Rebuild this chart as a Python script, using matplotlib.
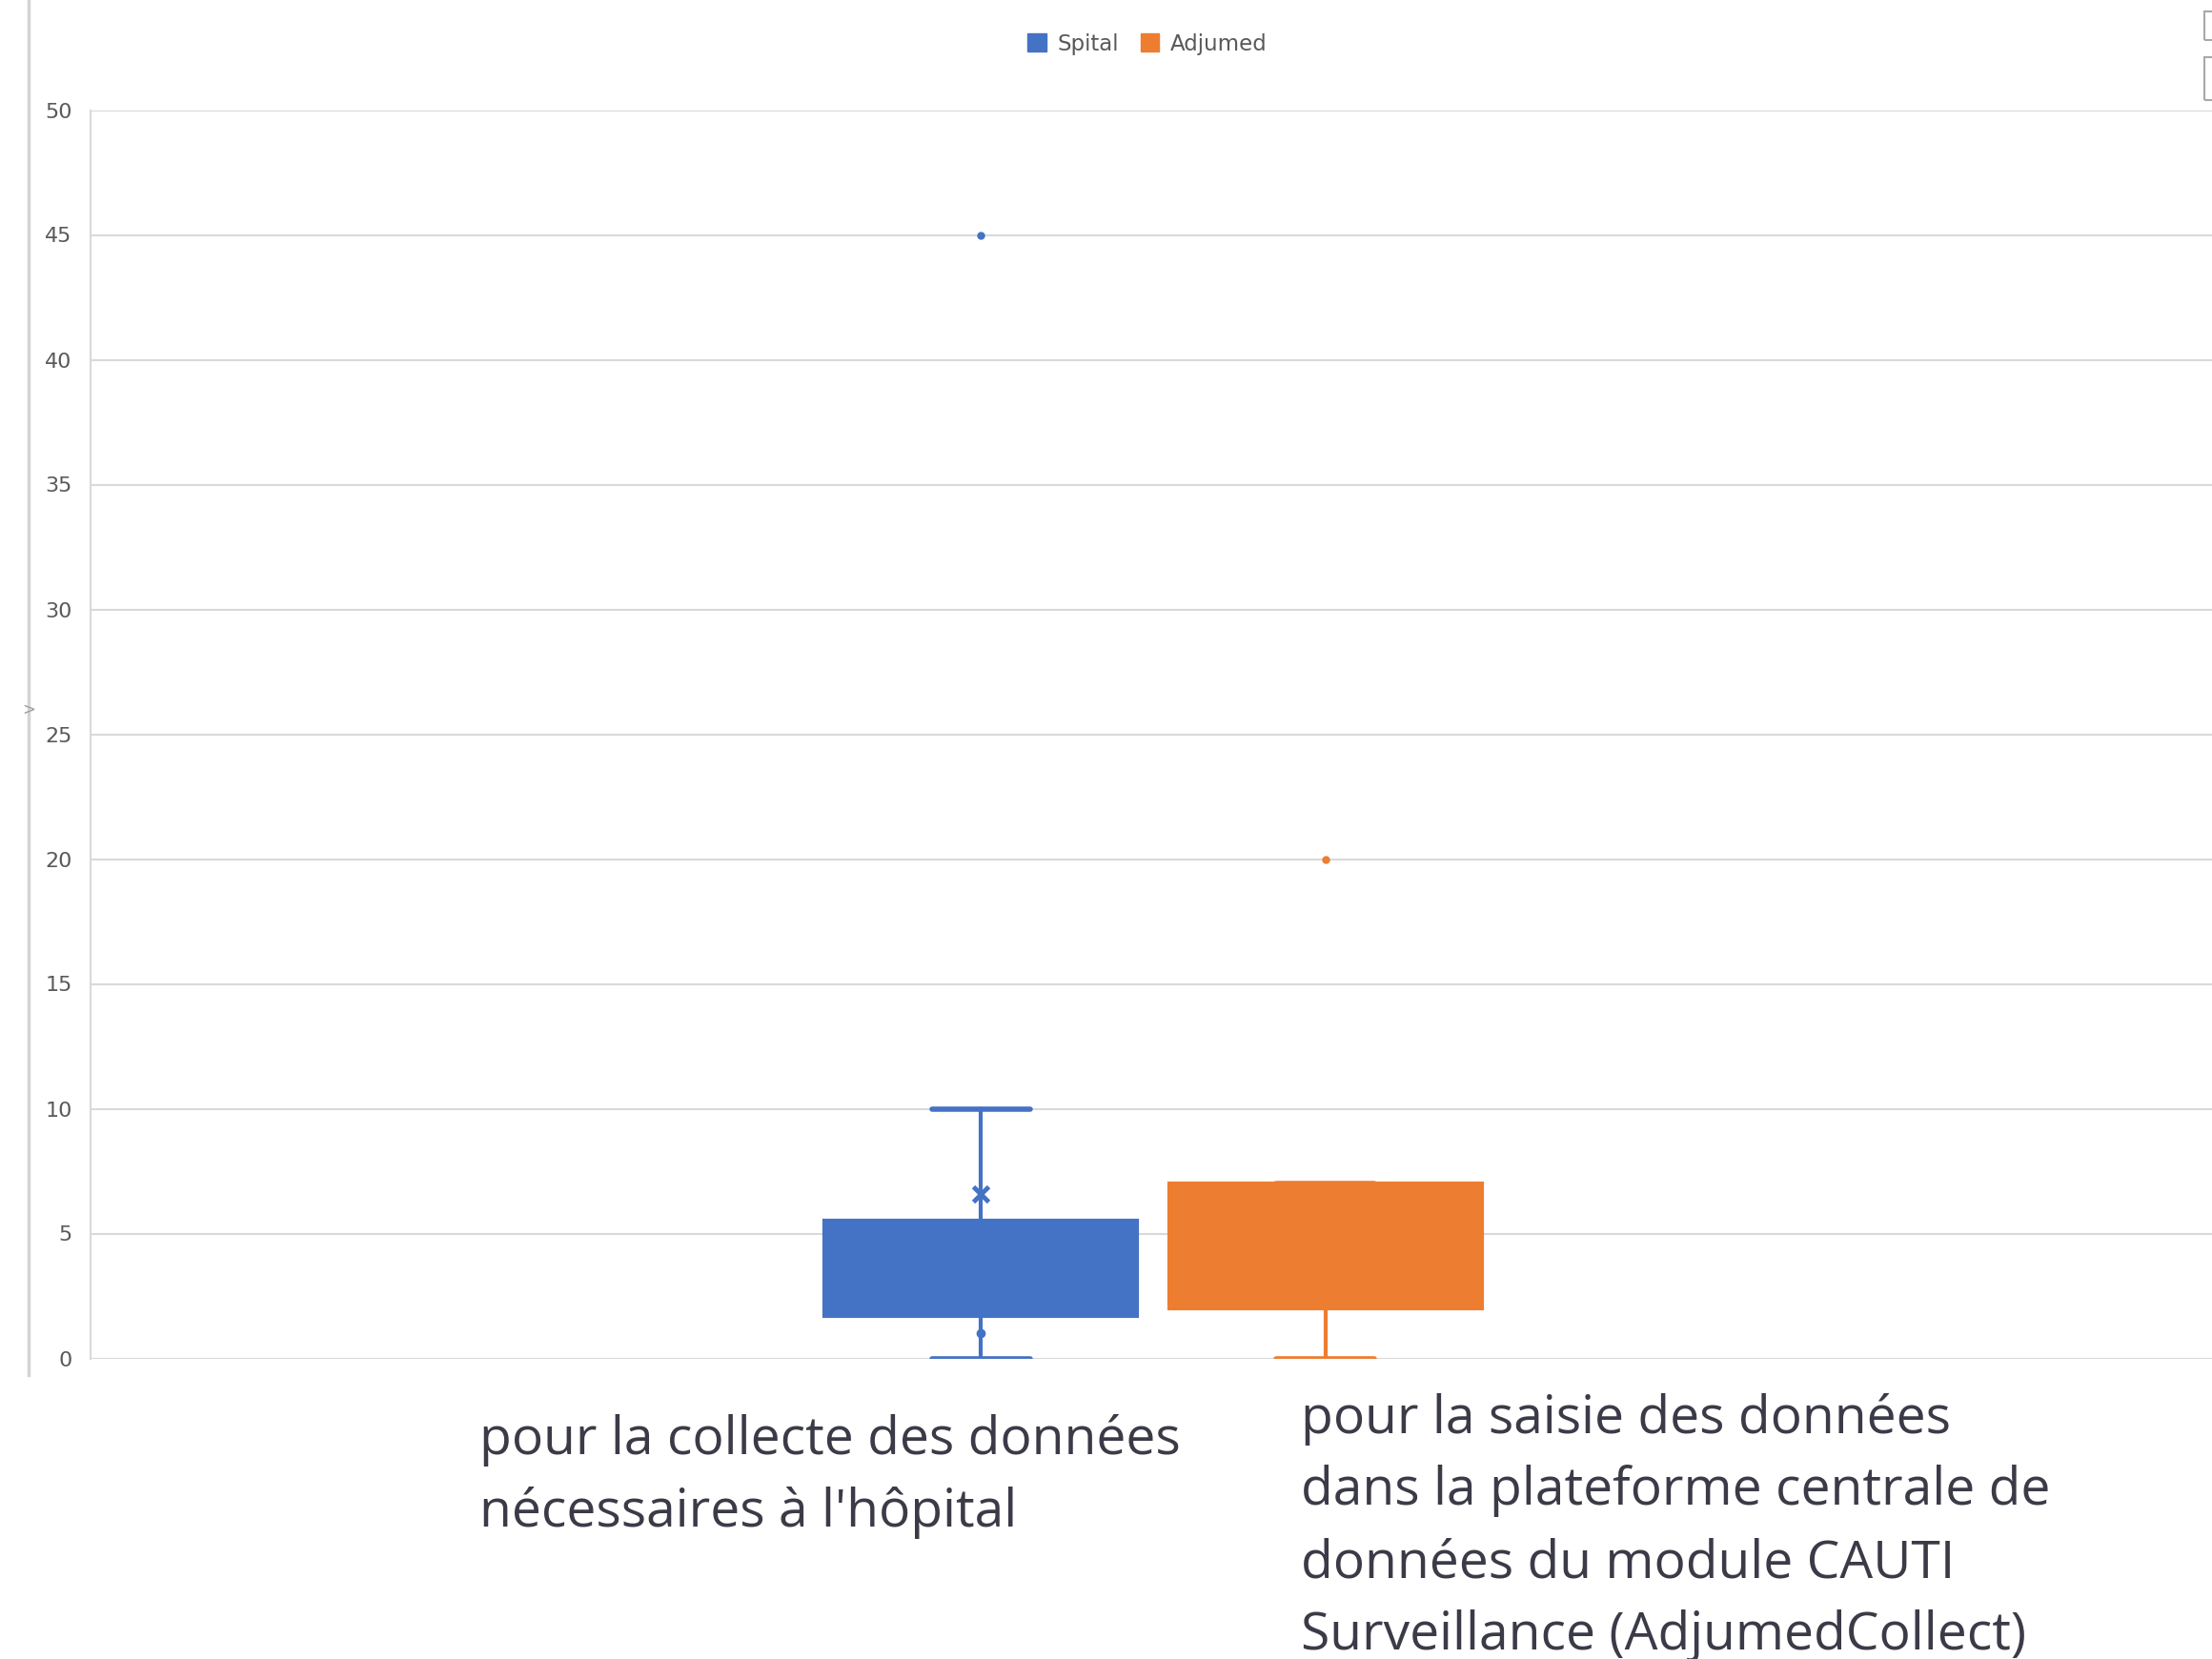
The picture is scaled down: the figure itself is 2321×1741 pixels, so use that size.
import matplotlib
matplotlib.use("Agg")
import matplotlib.pyplot as plt
from matplotlib.patches import Patch, Rectangle
from matplotlib.lines import Line2D

# box-and-whisker summary for each series
series = ["Spital", "Adjumed"]
colors = ["#4472C4", "#ED7D31"]
q1 = [1.7, 2.0]
median = [4.0, 4.0]
q3 = [5.5, 7.0]
whisker_low = [0.0, 0.0]
whisker_high = [10.0, 7.0]
means = [6.6, 4.8]
outliers = [[45.0], [20.0]]
inner_points = [[1.0], []]

y_ticks = [0, 5, 10, 15, 20, 25, 30, 35, 40, 45, 50]

label_left = ["pour la collecte des données",
              "nécessaires à l'hôpital"]
label_right = ["pour la saisie des données",
               "dans la plateforme centrale de",
               "données du module CAUTI",
               "Surveillance (AdjumedCollect)"]

W, H = 2321, 1741
fig = plt.figure(figsize=(W / 100, H / 100), dpi=100)
fig.patch.set_facecolor("white")

ax = fig.add_axes([95 / W, 1 - 1425.5 / H, 2230 / W, 1310 / H])

offset = 0.162
positions = [1 - offset, 1 + offset]

for i, name in enumerate(series):
    c = colors[i]
    stats = [{
        "q1": q1[i], "med": median[i], "q3": q3[i],
        "whislo": whisker_low[i], "whishi": whisker_high[i],
        "mean": means[i], "fliers": outliers[i], "label": name,
    }]
    ax.bxp(stats, positions=[positions[i]], widths=0.294, capwidths=0.092,
           patch_artist=True, showmeans=True, showfliers=True,
           manage_ticks=False,
           boxprops=dict(facecolor=c, edgecolor=c, linewidth=3),
           medianprops=dict(color=c, linewidth=3),
           whiskerprops=dict(color=c, linewidth=3),
           capprops=dict(color=c, linewidth=4, solid_capstyle="round"),
           meanprops=dict(marker="x", markeredgecolor=c, markersize=12,
                          markeredgewidth=3.5),
           flierprops=dict(marker="o", markerfacecolor=c, markeredgecolor=c,
                           markersize=5))
    if inner_points[i]:
        ax.plot([positions[i]] * len(inner_points[i]), inner_points[i], "o",
                color=c, markersize=6, zorder=5)

ax.set_xlim(0, 2)
ax.set_ylim(0, 50)
ax.set_yticks(y_ticks)
ax.set_xticks([])
ax.grid(axis="y", color="#d9d9d9", linewidth=1.5)
ax.set_axisbelow(True)
for side in ["top", "right", "bottom"]:
    ax.spines[side].set_visible(False)
ax.spines["left"].set_color("#d9d9d9")
ax.spines["left"].set_linewidth(1.5)
ax.tick_params(axis="y", length=0, pad=14, labelsize=16, labelcolor="#595959")

# legend at the top
handles = [Patch(facecolor=c, edgecolor=c) for c in colors]
fig.legend(handles, series, loc="center", bbox_to_anchor=(1204 / W, 1 - 46 / H),
           ncol=2, frameon=False, fontsize=16.5, labelcolor="#595959",
           handlelength=0.85, handleheight=0.85, handletextpad=0.5,
           columnspacing=1.0)

# category captions under the boxes
text_kw = dict(fontsize=39.7, color="#3b3b48", family="Open Sans", va="baseline")
for k, line in enumerate(label_left):
    fig.text(503 / W, 1 - (1526 + 76 * k) / H, line, **text_kw)
for k, line in enumerate(label_right):
    fig.text(1365 / W, 1 - (1504 + 75.5 * k) / H, line, **text_kw)

# window frame pieces around the chart
fig.add_artist(Line2D([30 / W, 30 / W], [1 - 1443 / H, 1], color="#d4d4d4",
                      linewidth=2.5))
fig.text(30 / W, 1 - 745 / H, ">", fontsize=12, color="#a0a0a0",
         ha="center", va="center")
fig.add_artist(Rectangle((2313 / W, 1 - 42 / H), 20 / W, 30 / H, fill=False,
                         edgecolor="#a8a8a8", linewidth=1.5))
fig.add_artist(Rectangle((2313 / W, 1 - 105 / H), 20 / W, 45 / H, fill=False,
                         edgecolor="#a8a8a8", linewidth=1.5))

fig.savefig("out.png", dpi=100)
